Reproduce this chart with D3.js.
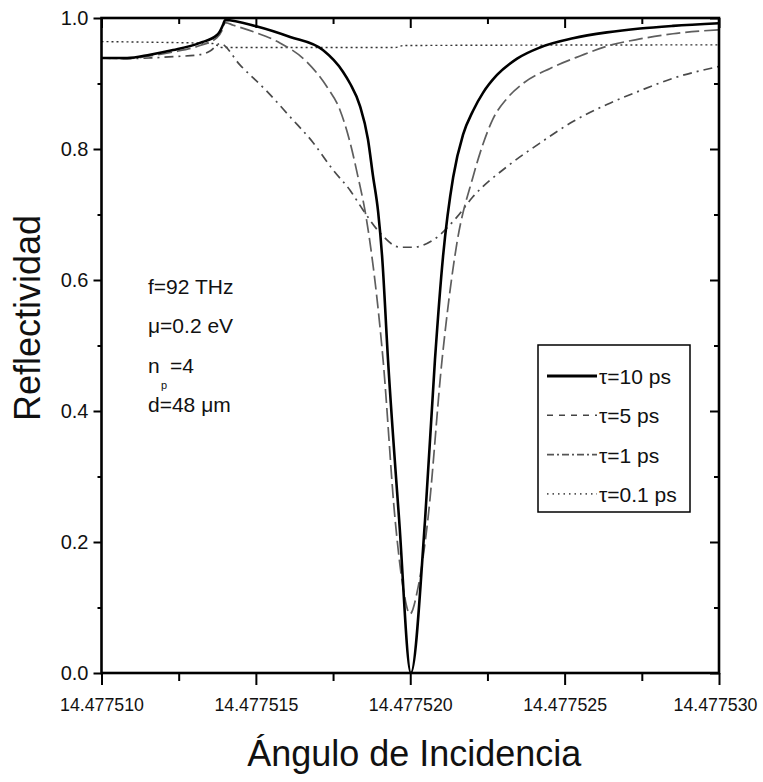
<!DOCTYPE html>
<html><head><meta charset="utf-8">
<script src="https://cdn.jsdelivr.net/npm/d3@7"></script>
<style>
body{margin:0;background:#fff;}
text{font-family:"Liberation Sans",Arial,sans-serif;fill:#111;}
</style></head>
<body><svg id="c" width="763" height="782"></svg>
<script>
// ---- data ----
const xTicks = [14.477510, 14.477515, 14.477520, 14.477525, 14.477530];
const xMinor = [14.4775125, 14.4775175, 14.4775225, 14.4775275];
const yTicks = [0.0, 0.2, 0.4, 0.6, 0.8, 1.0];
const yMinor = [0.1, 0.3, 0.5, 0.7, 0.9];

const angle10 = [14.4775100,14.47751083,14.47751157,14.47751232,14.47751319,14.47751374,14.47751384,14.47751394,14.4775140,14.47751504,14.47751611,14.47751717,14.47751782,14.47751805,14.47751837,14.47751863,14.47751879,14.47751896,14.47751909,14.47751928,14.47751964,14.47752002,14.47752048,14.4775208,14.47752106,14.47752139,14.47752171,14.47752203,14.47752236,14.47752281,14.47752346,14.4775242,14.47752527,14.47752637,14.47752744,14.47752851,14.477530];
const refl10 = [.939,.939,.944,.951,.962,.974,.980,.990,.997,.987,.971,.951,.918,.900,.866,.815,.760,.704,.635,.478,.234,0,.234,.478,.635,.757,.822,.858,.886,.913,.938,.955,.969,.978,.984,.988,.992];

const angle5 = [14.4775100,14.47751083,14.47751157,14.47751232,14.47751319,14.47751374,14.47751394,14.4775140,14.47751427,14.47751492,14.47751578,14.47751665,14.4775173,14.47751772,14.47751805,14.47751831,14.47751853,14.4775187,14.47751912,14.47751951,14.47751977,14.47751999,14.47752025,14.47752057,14.47752103,14.47752151,14.47752203,14.47752236,14.47752268,14.47752313,14.47752365,14.47752453,14.4775255,14.47752637,14.47752744,14.47752851,14.477530];
const refl5 = [.939,.938,.942,.948,.958,.970,.985,.993,.989,.979,.962,.933,.895,.860,.810,.757,.707,.656,.478,.234,.130,.090,.130,.234,.478,.656,.757,.808,.846,.877,.900,.923,.942,.957,.968,.976,.982];

const angle1 = [14.4775100,14.47751083,14.47751157,14.47751232,14.47751319,14.47751353,14.47751384,14.47751449,14.47751536,14.47751611,14.47751685,14.4775175,14.47751805,14.47751847,14.47751902,14.47751967,14.47752009,14.47752074,14.47752151,14.47752203,14.47752313,14.4775242,14.47752527,14.47752637,14.47752744,14.47752851,14.477530];
const refl1 = [.939,.938,.939,.941,.944,.950,.961,.928,.888,.849,.810,.768,.737,.707,.672,.650,.650,.661,.696,.727,.773,.809,.842,.868,.889,.908,.926];

const angle01 = [14.4775100,14.4775116,14.4775136,14.4775139,14.4775195,14.4775198,14.477530];
const refl01 = [.964,.963,.961,.955,.955,.958,.959];

const seriesNames = ["τ=10 ps","τ=5 ps","τ=1 ps","τ=0.1 ps"];
const xTitle = "Ángulo de Incidencia";
const yTitle = "Reflectividad";

// ---- layout ----
const L = 101.5, R = 719, T = 18, B = 673;
const svg = d3.select("#c");
const x = d3.scaleLinear().domain([14.477510, 14.477530]).range([L, R]);
const y = d3.scaleLinear().domain([0, 1]).range([B, T]);

const series = [
  {a: angle10, r: refl10, stroke:"#000", w:2.6, dash:null},
  {a: angle5,  r: refl5,  stroke:"#5e5e5e", w:1.7, dash:"14,5"},
  {a: angle1,  r: refl1,  stroke:"#4a4a4a", w:1.7, dash:"9,5,2,5"},
  {a: angle01, r: refl01, stroke:"#333", w:1.4, dash:"2,3"}
];
const line = d3.line().x(d => x(d[0])).y(d => y(d[1])).curve(d3.curveMonotoneX);
const g = svg.append("g");
series.slice().reverse().forEach(s => {
  g.append("path").datum(s.a.map((v,i)=>[v, s.r[i]]))
    .attr("d", line).attr("fill","none").attr("stroke", s.stroke)
    .attr("stroke-width", s.w).attr("stroke-dasharray", s.dash);
});

// ---- axes ----
function styleAxis(sel){ sel.select(".domain").remove(); sel.selectAll("line").attr("stroke","#000").attr("stroke-width",2); }
const fx = d3.format(".6f"), fy = d3.format(".1f");
// bottom major
const bx = svg.append("g").attr("transform",`translate(0,${B})`)
  .call(d3.axisBottom(x).tickValues(xTicks).tickSize(12).tickPadding(13).tickFormat(fx));
styleAxis(bx);
bx.selectAll("text").attr("font-size",19).attr("textLength",84).attr("lengthAdjust","spacingAndGlyphs").attr("fill","#222");
bx.selectAll(".tick").filter(d => d === xTicks[xTicks.length-1]).select("text").attr("dx",-4);
const bxm = svg.append("g").attr("transform",`translate(0,${B})`)
  .call(d3.axisBottom(x).tickValues(xMinor).tickSize(8).tickFormat(""));
styleAxis(bxm);
// top (inward)
const tx = svg.append("g").attr("transform",`translate(0,${T})`)
  .call(d3.axisBottom(x).tickValues(xTicks).tickSize(10).tickFormat(""));
styleAxis(tx);
const txm = svg.append("g").attr("transform",`translate(0,${T})`)
  .call(d3.axisBottom(x).tickValues(xMinor).tickSize(6).tickFormat(""));
styleAxis(txm);
// left
const ly = svg.append("g").attr("transform",`translate(${L},0)`)
  .call(d3.axisLeft(y).tickValues(yTicks).tickSize(8).tickPadding(5).tickFormat(fy));
styleAxis(ly);
ly.selectAll("text").attr("font-size",20).attr("fill","#222");
const lym = svg.append("g").attr("transform",`translate(${L},0)`)
  .call(d3.axisLeft(y).tickValues(yMinor).tickSize(4).tickFormat(""));
styleAxis(lym);
// right (inward)
const ry = svg.append("g").attr("transform",`translate(${R},0)`)
  .call(d3.axisLeft(y).tickValues(yTicks).tickSize(9).tickFormat(""));
styleAxis(ry);
const rym = svg.append("g").attr("transform",`translate(${R},0)`)
  .call(d3.axisLeft(y).tickValues(yMinor).tickSize(5).tickFormat(""));
styleAxis(rym);
// frame
svg.append("rect").attr("x",L).attr("y",T).attr("width",R-L).attr("height",B-T)
  .attr("fill","none").attr("stroke","#000").attr("stroke-width",2.6);

// titles
svg.append("text").attr("x",(L+R)/2 + 4).attr("y",766).attr("text-anchor","middle")
  .attr("font-size",36).text(xTitle);
svg.append("text").attr("transform","translate(40,318) rotate(-90)").attr("text-anchor","middle")
  .attr("font-size",36).text(yTitle);

// annotations
const ann = svg.append("g").attr("font-size",21);
ann.append("text").attr("x",148).attr("y",294).text("f=92 THz");
ann.append("text").attr("x",148).attr("y",333).text("μ=0.2 eV");
ann.append("text").attr("x",148).attr("y",373).text("n");
ann.append("text").attr("x",161).attr("y",389).attr("font-size",11).text("p");
ann.append("text").attr("x",170).attr("y",373).text("=4");
ann.append("text").attr("x",148).attr("y",412).text("d=48 μm");

// legend
const lg = svg.append("g");
lg.append("rect").attr("x",538).attr("y",345).attr("width",152).attr("height",167)
  .attr("fill","#fff").attr("stroke","#000").attr("stroke-width",1.5);
const legStyles = [
  {stroke:"#000", w:3, dash:null},
  {stroke:"#444", w:1.6, dash:"6,6"},
  {stroke:"#555", w:1.8, dash:"7,3,2,3"},
  {stroke:"#555", w:1.6, dash:"1.5,4"}
];
seriesNames.forEach((nm,i) => {
  const by = 384 + i*39.3;
  lg.append("line").attr("x1",547).attr("x2",597).attr("y1",by-8).attr("y2",by-8)
    .attr("stroke",legStyles[i].stroke).attr("stroke-width",legStyles[i].w)
    .attr("stroke-dasharray",legStyles[i].dash);
  lg.append("text").attr("x",599).attr("y",by).attr("font-size",21).text(nm);
});
</script></body></html>
